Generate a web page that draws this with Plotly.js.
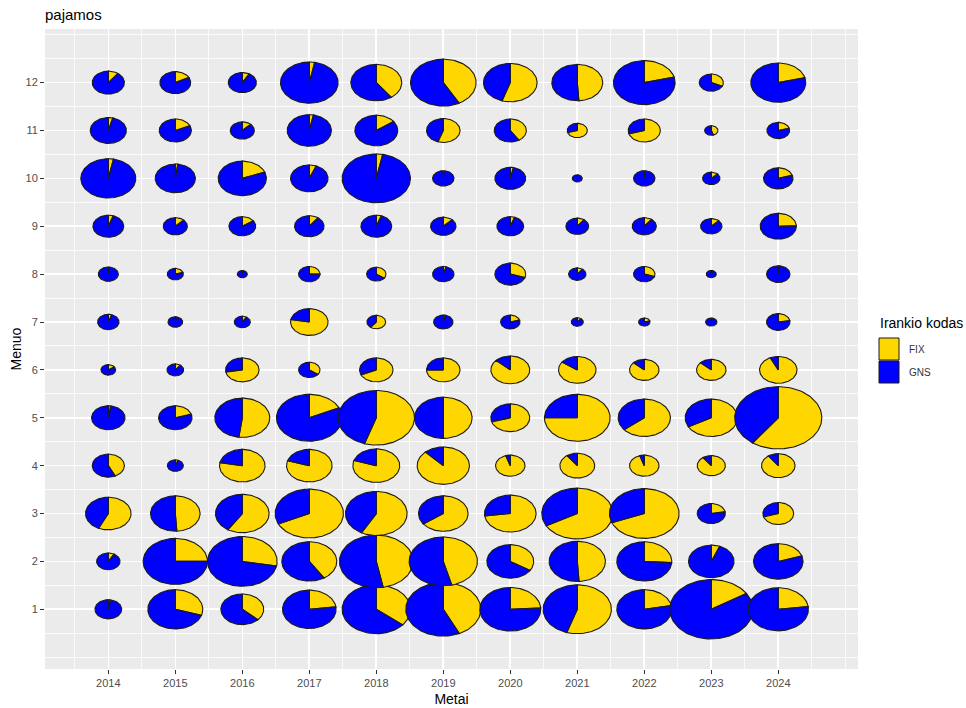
<!DOCTYPE html>
<html>
<head>
<meta charset="utf-8">
<script src="https://cdn.plot.ly/plotly-3.0.1.min.js"></script>
<style>html,body{margin:0;padding:0;background:#fff;}#chart{width:966px;height:708px;}</style>
</head>
<body>
<div id="chart"></div>
<script>
// ---- data ----
const years = [2014, 2015, 2016, 2017, 2018, 2019, 2020, 2021, 2022, 2023, 2024];
const months = [1, 2, 3, 4, 5, 6, 7, 8, 9, 10, 11, 12];
const categories = ["FIX", "GNS"];
// pie radius (r aesthetic, in x-axis units), one row per month (1..12), one column per year
const radiusByMonth = [
  [0.20, 0.41, 0.32, 0.40, 0.51, 0.56, 0.455, 0.51, 0.41, 0.62, 0.45],
  [0.175, 0.48, 0.52, 0.41, 0.55, 0.51, 0.35, 0.42, 0.41, 0.34, 0.37],
  [0.34, 0.37, 0.40, 0.51, 0.46, 0.37, 0.385, 0.53, 0.52, 0.21, 0.23],
  [0.24, 0.12, 0.34, 0.34, 0.35, 0.39, 0.22, 0.26, 0.22, 0.21, 0.25],
  [0.25, 0.25, 0.41, 0.49, 0.57, 0.43, 0.29, 0.49, 0.39, 0.39, 0.65],
  [0.11, 0.125, 0.25, 0.16, 0.25, 0.25, 0.29, 0.28, 0.22, 0.22, 0.28],
  [0.16, 0.11, 0.12, 0.28, 0.14, 0.145, 0.145, 0.09, 0.085, 0.085, 0.175],
  [0.15, 0.12, 0.075, 0.16, 0.145, 0.16, 0.23, 0.13, 0.16, 0.075, 0.175],
  [0.23, 0.18, 0.20, 0.22, 0.23, 0.19, 0.20, 0.17, 0.18, 0.16, 0.27],
  [0.41, 0.30, 0.36, 0.28, 0.51, 0.16, 0.23, 0.075, 0.16, 0.13, 0.22],
  [0.27, 0.24, 0.18, 0.33, 0.32, 0.25, 0.24, 0.15, 0.24, 0.10, 0.17],
  [0.24, 0.23, 0.21, 0.43, 0.38, 0.49, 0.40, 0.38, 0.46, 0.18, 0.41]
];
// share of FIX (rest is GNS), same layout
const fixShareByMonth = [
  [0.02, 0.30, 0.37, 0.23, 0.36, 0.43, 0.24, 0.55, 0.22, 0.16, 0.23],
  [0.08, 0.25, 0.28, 0.41, 0.47, 0.46, 0.34, 0.49, 0.26, 0.06, 0.20],
  [0.57, 0.49, 0.59, 0.68, 0.58, 0.65, 0.73, 0.67, 0.69, 0.22, 0.70],
  [0.43, 0.05, 0.78, 0.80, 0.80, 0.88, 0.95, 0.90, 0.95, 0.90, 0.90],
  [0.02, 0.20, 0.52, 0.18, 0.55, 0.50, 0.70, 0.75, 0.64, 0.67, 0.60],
  [0.15, 0.10, 0.72, 0.35, 0.68, 0.75, 0.87, 0.85, 0.87, 0.87, 0.93],
  [0.05, 0.02, 0.08, 0.78, 0.60, 0.03, 0.20, 0.10, 0.20, 0.02, 0.22],
  [0.01, 0.20, 0.03, 0.25, 0.35, 0.04, 0.30, 0.10, 0.30, 0.05, 0.02],
  [0.05, 0.12, 0.15, 0.10, 0.05, 0.12, 0.05, 0.10, 0.10, 0.12, 0.24],
  [0.03, 0.02, 0.19, 0.06, 0.03, 0.01, 0.03, 0.00, 0.01, 0.12, 0.20],
  [0.04, 0.18, 0.12, 0.03, 0.15, 0.55, 0.41, 0.70, 0.70, 0.45, 0.20],
  [0.10, 0.17, 0.08, 0.03, 0.40, 0.42, 0.55, 0.49, 0.21, 0.32, 0.21]
];

// ---- styling ----
const colors = {FIX: "#FFD700", GNS: "#0000FF"};
const W = 966, H = 708;
const M = {l: 45, r: 108, t: 29, b: 39};
const plotW = W - M.l - M.r, plotH = H - M.t - M.b;
const px = v => (v - M.l) / plotW;
const py = v => (H - M.b - v) / plotH;
const FONT = "Liberation Sans, Arial, sans-serif";

function wedge(cx, cy, r, a0, a1) {
  const xs = [cx], ys = [cy];
  const n = Math.max(2, Math.ceil((a1 - a0) * 140));
  for (let k = 0; k <= n; k++) {
    const t = 2 * Math.PI * (a0 + (a1 - a0) * k / n);
    xs.push(cx + r * Math.sin(t));
    ys.push(cy + r * Math.cos(t));
  }
  xs.push(cx); ys.push(cy);
  return {x: xs, y: ys};
}

const traces = [];
years.forEach((yr, i) => {
  months.forEach((mo, j) => {
    const r = radiusByMonth[j][i];
    const f = fixShareByMonth[j][i];
    const parts = [["FIX", 0, f], ["GNS", f, 1]];
    parts.forEach(([cat, a0, a1]) => {
      if (a1 - a0 <= 0) return;
      const w = wedge(yr, mo, r, a0, a1);
      traces.push({
        type: "scatter", mode: "lines", x: w.x, y: w.y,
        fill: "toself", fillcolor: colors[cat],
        line: {color: "#1a1a1a", width: 1.1},
        name: cat, legendgroup: cat, showlegend: false, hoverinfo: "skip"
      });
    });
  });
});

const axisCommon = {
  showgrid: true, gridcolor: "#FFFFFF", gridwidth: 1.6,
  zeroline: false, showline: false,
  ticks: "outside", ticklen: 4, tickwidth: 1, tickcolor: "#333333",
  tickfont: {family: FONT, size: 11, color: "#4D4D4D"},
  fixedrange: true
};

const layout = {
  width: W, height: H,
  margin: M,
  paper_bgcolor: "#FFFFFF",
  plot_bgcolor: "#EBEBEB",
  showlegend: false,
  title: {text: "pajamos", font: {family: FONT, size: 15, color: "#000"},
          xref: "paper", x: 0, xanchor: "left", yref: "container", y: 1 - 15 / H, yanchor: "middle"},
  xaxis: Object.assign({}, axisCommon, {
    range: [2013.055, 2025.19],
    tickmode: "array", tickvals: years, ticktext: years.map(String),
    minor: {tickmode: "linear", tick0: 2013.5, dtick: 0.5, showgrid: true, gridcolor: "#FFFFFF", gridwidth: 0.8, ticks: ""},
    title: {text: "Metai", font: {family: FONT, size: 14, color: "#000"}, standoff: 5}
  }),
  yaxis: Object.assign({}, axisCommon, {
    range: [-0.247, 13.12],
    tickmode: "array", tickvals: months, ticktext: months.map(String),
    minor: {tickmode: "linear", tick0: 0, dtick: 0.5, showgrid: true, gridcolor: "#FFFFFF", gridwidth: 0.8, ticks: ""},
    title: {text: "Menuo", font: {family: FONT, size: 14, color: "#000"}, standoff: 0}
  }),
  shapes: [],
  annotations: [
    {xref: "paper", yref: "paper", x: px(878), y: py(323), xanchor: "left", yanchor: "middle",
     text: "Irankio kodas", showarrow: false, font: {family: FONT, size: 14, color: "#000"}}
  ]
};

const keyTop = [338, 361];
categories.forEach((cat, k) => {
  layout.shapes.push({type: "rect", xref: "paper", yref: "paper",
    x0: px(879), x1: px(899), y0: py(keyTop[k]), y1: py(keyTop[k] + 22),
    fillcolor: colors[cat], line: {color: "#1a1a1a", width: 1}});
  layout.annotations.push({xref: "paper", yref: "paper", x: px(907), y: py(keyTop[k] + 11),
    xanchor: "left", yanchor: "middle", text: cat, showarrow: false,
    font: {family: FONT, size: 10, color: "#333"}});
});

Plotly.newPlot("chart", traces, layout, {displayModeBar: false, staticPlot: true});
</script>
</body>
</html>
